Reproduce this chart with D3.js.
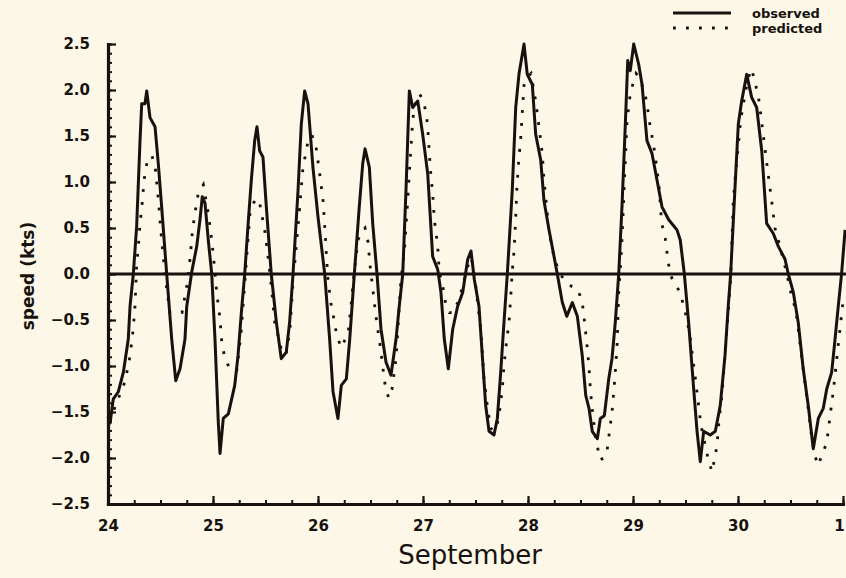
<!DOCTYPE html>
<html>
<head>
<meta charset="utf-8">
<script src="https://cdn.jsdelivr.net/npm/d3@7"></script>
<style>
    body { margin: 0; background: #fcf7e6; }
    svg { display: block; }
</style>
</head>
<body>
<div id="container"></div>
<script>
// observed current speed, day of September (31 = Oct 1) and knots
const obsDay = [24.000, 24.02, 24.05, 24.098, 24.146, 24.193, 24.21, 24.241, 24.273, 24.305, 24.321, 24.352, 24.369, 24.40,
    24.448, 24.479, 24.511, 24.559, 24.607, 24.645, 24.686, 24.733, 24.75, 24.797, 24.845, 24.876, 24.898, 24.924,
    24.955, 24.988, 25.019, 25.05, 25.067, 25.098, 25.146, 25.207, 25.238, 25.27, 25.302, 25.333, 25.365, 25.397,
    25.419, 25.444, 25.476, 25.508, 25.555, 25.603, 25.65, 25.698, 25.73, 25.762, 25.81, 25.841, 25.873, 25.905,
    25.952, 26.0, 26.064, 26.111, 26.143, 26.19, 26.222, 26.27, 26.302, 26.346, 26.393, 26.426, 26.448, 26.489,
    26.521, 26.562, 26.60, 26.648, 26.695, 26.743, 26.774, 26.807, 26.838, 26.87, 26.902, 26.95, 26.997, 27.045,
    27.092, 27.14, 27.171, 27.203, 27.241, 27.283, 27.33, 27.378, 27.426, 27.457, 27.489, 27.533, 27.565, 27.597,
    27.629, 27.676, 27.708, 27.74, 27.771, 27.803, 27.85, 27.883, 27.914, 27.962, 27.993, 28.041, 28.073, 28.121,
    28.152, 28.20, 28.248, 28.279, 28.327, 28.369, 28.422, 28.47, 28.517, 28.55, 28.581, 28.612, 28.66, 28.689,
    28.727, 28.769, 28.80, 28.831, 28.864, 28.895, 28.927, 28.95, 28.974, 29.007, 29.054, 29.086, 29.133, 29.181,
    29.229, 29.276, 29.34, 29.419, 29.45, 29.489, 29.53, 29.578, 29.61, 29.641, 29.673, 29.736, 29.784, 29.831,
    29.876, 29.907, 29.93, 29.962, 30.003, 30.035, 30.083, 30.13, 30.178, 30.226, 30.273, 30.336, 30.384, 30.448,
    30.479, 30.527, 30.574, 30.621, 30.669, 30.717, 30.765, 30.812, 30.845, 30.892, 30.924, 30.955, 30.987, 31.02];
const obsSpeed = [-1.55, -1.62, -1.36, -1.28, -1.07, -0.71, -0.35, 0, 0.52, 1.45, 1.85, 1.85, 1.99, 1.70,
    1.60, 1.20, 0.73, 0, -0.71, -1.16, -1.03, -0.71, -0.35, 0.02, 0.30, 0.59, 0.84, 0.77,
    0.37, 0, -0.71, -1.60, -1.95, -1.57, -1.52, -1.21, -0.89, -0.42, 0, 0.52, 1.02, 1.45,
    1.60, 1.34, 1.27, 0.73, 0, -0.52, -0.92, -0.85, -0.52, 0, 0.91, 1.63, 1.99, 1.85,
    1.16, 0.62, 0, -0.71, -1.28, -1.57, -1.21, -1.14, -0.71, 0, 0.73, 1.20, 1.36, 1.16,
    0.55, 0, -0.60, -0.96, -1.10, -0.71, -0.35, 0, 0.91, 1.99, 1.81, 1.88, 1.52, 1.09,
    0.19, 0.05, -0.20, -0.71, -1.03, -0.60, -0.35, -0.20, 0.16, 0.25, -0.06, -0.35, -0.89, -1.43,
    -1.71, -1.75, -1.57, -1.07, -0.53, 0, 0.91, 1.81, 2.17, 2.50, 2.17, 2.06, 1.52, 1.24,
    0.80, 0.48, 0.19, 0, -0.31, -0.46, -0.31, -0.46, -0.89, -1.32, -1.46, -1.71, -1.79, -1.57,
    -1.54, -1.14, -0.92, -0.53, 0, 0.73, 1.63, 2.32, 2.21, 2.50, 2.28, 2.06, 1.45, 1.31,
    1.02, 0.73, 0.59, 0.48, 0.37, 0, -0.53, -1.25, -1.71, -2.04, -1.71, -1.75, -1.71, -1.43,
    -0.89, -0.35, 0, 0.73, 1.63, 1.88, 2.17, 1.92, 1.81, 1.34, 0.55, 0.44, 0.30, 0.16,
    0, -0.20, -0.53, -1.03, -1.43, -1.90, -1.57, -1.46, -1.25, -1.07, -0.71, -0.35, 0.01, 0.48];

// predicted current speed
const predDay = [24.000, 24.048, 24.10, 24.162, 24.21, 24.24, 24.257, 24.273, 24.289, 24.305, 24.32, 24.335, 24.352,
    24.383, 24.419, 24.448, 24.476, 24.505, 24.533, 24.552, 24.59, 24.648, 24.705, 24.75, 24.781, 24.803, 24.822,
    24.86, 24.908, 24.955, 24.988, 25.019, 25.035, 25.067, 25.083, 25.114, 25.171, 25.226, 25.267, 25.314, 25.352,
    25.397, 25.419, 25.444, 25.492, 25.524, 25.555, 25.588, 25.619, 25.657, 25.695, 25.733, 25.762, 25.793, 25.826,
    25.857, 25.889, 25.905, 25.943, 25.984, 26.016, 26.048, 26.064, 26.079, 26.095, 26.127, 26.159, 26.174, 26.219,
    26.286, 26.314, 26.343, 26.381, 26.41, 26.448, 26.476, 26.495, 26.521, 26.536, 26.552, 26.569, 26.584, 26.60,
    26.616, 26.631, 26.648, 26.676, 26.705, 26.743, 26.759, 26.774, 26.79, 26.822, 26.838, 26.854, 26.869, 26.886,
    26.902, 26.917, 26.965, 26.997, 27.029, 27.045, 27.06, 27.076, 27.092, 27.108, 27.124, 27.14, 27.155, 27.188,
    27.219, 27.25, 27.286, 27.33, 27.362, 27.393, 27.426, 27.457, 27.486, 27.517, 27.55, 27.565, 27.581, 27.597,
    27.612, 27.645, 27.692, 27.724, 27.74, 27.755, 27.771, 27.787, 27.803, 27.819, 27.835, 27.85, 27.867, 27.883,
    27.892, 27.908, 27.93, 27.946, 27.962, 27.993, 28.029, 28.073, 28.105, 28.136, 28.152, 28.178, 28.20, 28.231,
    28.248, 28.333, 28.419, 28.476, 28.517, 28.533, 28.559, 28.581, 28.597, 28.619, 28.648, 28.686, 28.724, 28.752,
    28.784, 28.80, 28.822, 28.831, 28.848, 28.864, 28.879, 28.895, 28.911, 28.927, 28.943, 28.959, 28.974, 29.007,
    29.029, 29.07, 29.102, 29.133, 29.149, 29.165, 29.21, 29.248, 29.273, 29.305, 29.321, 29.336, 29.368, 29.448,
    29.495, 29.543, 29.574, 29.59, 29.625, 29.648, 29.686, 29.714, 29.752, 29.784, 29.8, 29.819, 29.848, 29.876,
    29.908, 29.93, 29.955, 29.981, 30.003, 30.019, 30.035, 30.067, 30.095, 30.13, 30.162, 30.193, 30.226, 30.257,
    30.289, 30.321, 30.352, 30.40, 30.463, 30.511, 30.552, 30.59, 30.629, 30.667, 30.705, 30.733, 30.765, 30.797,
    30.844, 30.86, 30.876, 30.892, 30.908, 30.952, 31.0];
const predSpeed = [-1.6, -1.5, -1.35, -1.17, -0.89, -0.6, -0.35, 0.1, 0.3, 0.55, 0.7, 0.9, 1.1,
    1.27, 1.28, 1.18, 0.85, 0.45, 0.1, -0.1, -0.42, -0.42, -0.42, -0.13, 0.16, 0.45, 0.62,
    0.88, 0.97, 0.66, 0.37, 0.02, -0.2, -0.49, -0.74, -0.92, -1.05, -1.05, -0.64, 0.08, 0.66,
    0.80, 0.82, 0.77, 0.48, 0.19, -0.13, -0.53, -0.67, -0.85, -0.88, -0.6, -0.09, 0.30, 0.73,
    1.16, 1.34, 1.45, 1.51, 1.36, 1.09, 0.80, 0.52, 0.23, -0.06, -0.35, -0.53, -0.64, -0.8,
    -0.65, -0.35, 0.0, 0.37, 0.45, 0.5, 0.35, 0.1, -0.15, -0.31, -0.46, -0.60, -0.71, -0.85,
    -1.0, -1.14, -1.27, -1.35, -1.25, -0.92, -0.64, -0.35, -0.06, 0.23, 0.52, 0.80, 1.09, 1.38,
    1.67, 1.81, 1.96, 1.90, 1.76, 1.60, 1.31, 1.06, 0.88, 0.59, 0.45, 0.30, 0.02, -0.13,
    -0.35, -0.42, -0.42, -0.31, -0.20, -0.06, 0.08, 0.18, 0.05, -0.28, -0.60, -0.85, -1.14, -1.28,
    -1.43, -1.68, -1.70, -1.54, -1.39, -1.25, -1.0, -0.82, -0.67, -0.53, -0.26, 0.03, 0.25, 0.61,
    0.89, 1.18, 1.47, 1.76, 2.05, 2.14, 2.18, 1.88, 1.60, 1.31, 1.02, 0.73, 0.44, 0.30,
    0.16, -0.05, -0.14, -0.17, -0.31, -0.46, -0.74, -1.01, -1.30, -1.55, -1.80, -2.02, -2.0, -1.93,
    -1.64, -1.50, -1.21, -1.07, -0.78, -0.20, 0.05, 0.37, 0.80, 1.24, 1.67, 1.81, 1.96, 2.10,
    2.18, 2.12, 1.99, 1.87, 1.70, 1.60, 1.3, 0.95, 0.55, 0.41, 0.26, 0.12, -0.04, -0.20,
    -0.4, -0.67, -0.96, -1.10, -1.43, -1.65, -1.85, -2.0, -2.15, -1.97, -1.86, -1.6, -1.3, -0.89,
    -0.4, -0.05, 0.8, 1.15, 1.4, 1.6, 1.74, 1.95, 2.12, 2.23, 2.08, 1.94, 1.65, 1.36,
    1.07, 0.79, 0.50, 0.3, 0.01, -0.24, -0.4, -0.75, -1.1, -1.45, -1.8, -1.98, -2.08, -1.97,
    -1.84, -1.70, -1.55, -1.41, -1.27, -0.8, -0.3];

const dayTicks = [24, 25, 26, 27, 28, 29, 30, 31];
const dayLabels = ["24", "25", "26", "27", "28", "29", "30", "1"];
const speedTicks = [-2.5, -2.0, -1.5, -1.0, -0.5, 0.0, 0.5, 1.0, 1.5, 2.0, 2.5];

const width = 846;
const height = 578;
const ink = "#16120f";
const font = "'DejaVu Sans', sans-serif";

const x = d3.scaleLinear().domain([24, 31]).range([108, 843]);
const y = d3.scaleLinear().domain([-2.5, 2.5]).range([504, 44]);

const svg = d3.select("#container").append("svg")
    .attr("width", width)
    .attr("height", height);

svg.append("rect")
    .attr("width", width)
    .attr("height", height)
    .attr("fill", "#fcf7e6");

// minor ticks (inside)
svg.append("g")
    .attr("transform", `translate(${x(24)},0)`)
    .call(d3.axisLeft(y).tickValues(d3.range(-25, 26).map(d => d / 10)).tickSize(-4).tickSizeOuter(0).tickFormat(""))
    .call(g => g.select(".domain").remove())
    .call(g => g.selectAll("line").attr("stroke", ink).attr("stroke-width", 2));

svg.append("g")
    .attr("transform", `translate(0,${y(-2.5)})`)
    .call(d3.axisBottom(x).tickValues(d3.range(0, 29).map(d => 24 + d / 4)).tickSize(-4).tickSizeOuter(0).tickFormat(""))
    .call(g => g.select(".domain").remove())
    .call(g => g.selectAll("line").attr("stroke", ink).attr("stroke-width", 2));

// major ticks + labels
const yAxis = svg.append("g")
    .attr("transform", `translate(${x(24)},0)`)
    .call(d3.axisLeft(y).tickValues(speedTicks).tickSize(-8).tickSizeOuter(0).tickPadding(18).tickFormat(d3.format(".1f")));

const xAxis = svg.append("g")
    .attr("transform", `translate(0,${y(-2.5)})`)
    .call(d3.axisBottom(x).tickValues(dayTicks).tickSize(-8).tickSizeOuter(0).tickPadding(16)
        .tickFormat((d, i) => dayLabels[i]));

[yAxis, xAxis].forEach(g => {
    g.select(".domain").attr("stroke", ink).attr("stroke-width", 3.2).attr("stroke-linecap", "square");
    g.selectAll(".tick line").attr("stroke", ink).attr("stroke-width", 2.2);
    g.selectAll(".tick text")
        .attr("fill", ink)
        .style("font-family", font)
        .style("font-weight", "bold")
        .style("font-size", "15px");
});

// "1" (October) sits at the right edge
xAxis.selectAll(".tick text").filter(d => d === 31).attr("dx", -4);

// zero line
svg.append("line")
    .attr("x1", x(24)).attr("x2", width)
    .attr("y1", y(0)).attr("y2", y(0))
    .attr("stroke", ink)
    .attr("stroke-width", 2.8);

// predicted (dotted)
svg.append("path")
    .datum(predDay.map((d, i) => [d, predSpeed[i]]))
    .attr("fill", "none")
    .attr("stroke", ink)
    .attr("stroke-width", 2.8)
    .attr("stroke-dasharray", "2.8 10.2")
    .attr("d", d3.line().x(d => x(d[0])).y(d => y(d[1])));

// observed (solid)
svg.append("path")
    .datum(obsDay.map((d, i) => [d, obsSpeed[i]]))
    .attr("fill", "none")
    .attr("stroke", ink)
    .attr("stroke-width", 3)
    .attr("stroke-linejoin", "round")
    .attr("d", d3.line().x(d => x(d[0])).y(d => y(d[1])));

// axis titles
svg.append("text")
    .attr("x", 470)
    .attr("y", 564)
    .attr("text-anchor", "middle")
    .attr("fill", ink)
    .style("font-family", font)
    .style("font-size", "26px")
    .text("September");

svg.append("text")
    .attr("transform", "translate(34,276) rotate(-90)")
    .attr("text-anchor", "middle")
    .attr("fill", ink)
    .style("font-family", font)
    .style("font-weight", "bold")
    .style("font-size", "17px")
    .text("speed (kts)");

// legend
const legend = [
    { label: "observed", dash: null, y: 13 },
    { label: "predicted", dash: "2.8 10.2", y: 28 }
];

legend.forEach(l => {
    svg.append("line")
        .attr("x1", 673).attr("x2", 731)
        .attr("y1", l.y).attr("y2", l.y)
        .attr("stroke", ink)
        .attr("stroke-width", 2.8)
        .attr("stroke-dasharray", l.dash);
    svg.append("text")
        .attr("x", 752)
        .attr("y", l.y + 4.5)
        .attr("fill", ink)
        .style("font-family", font)
        .style("font-weight", "bold")
        .style("font-size", "13px")
        .text(l.label);
});
</script>
</body>
</html>
